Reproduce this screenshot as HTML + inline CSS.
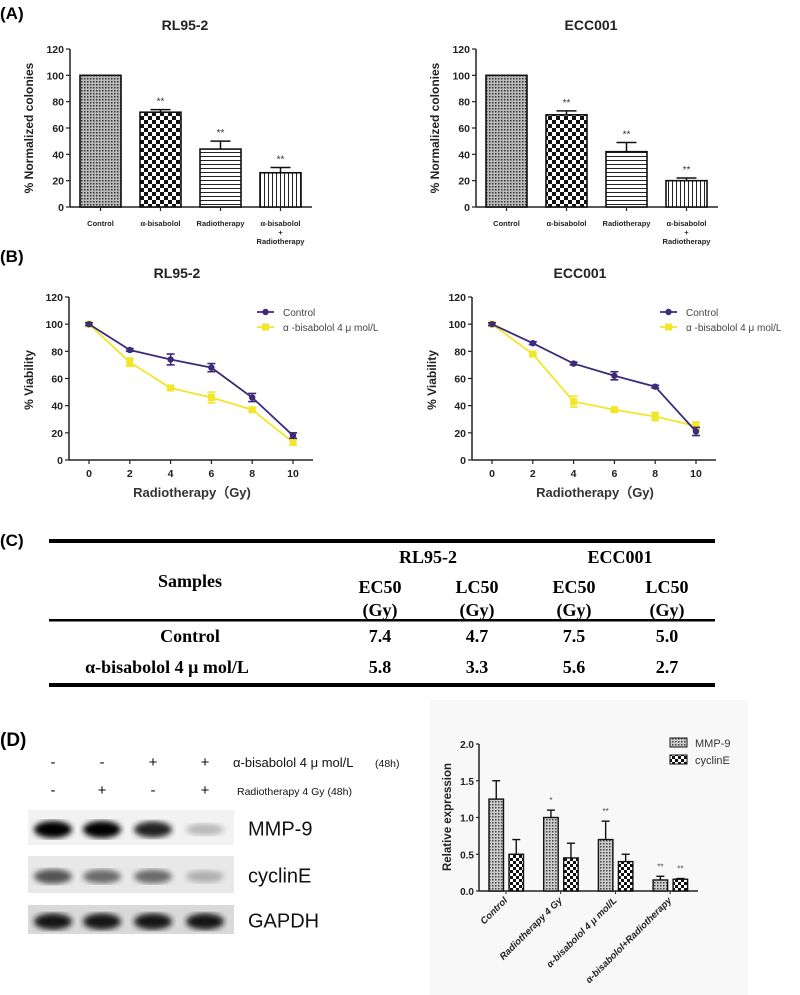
<!DOCTYPE html>
<html><head><meta charset="utf-8">
<style>
body{margin:0;background:#fff;}
svg{display:block;font-family:"Liberation Sans",Arial,sans-serif;}
.ser{font-family:"Liberation Serif","Times New Roman",serif;font-weight:bold;}
</style></head>
<body>
<svg id="fig" width="800" height="995" viewBox="0 0 800 995" xmlns="http://www.w3.org/2000/svg">
<defs>
<pattern id="pCtrl" width="3" height="3" patternUnits="userSpaceOnUse"><rect width="3" height="3" fill="#bbb"/><rect width="1.5" height="1.5" fill="#333"/></pattern>
<pattern id="pChk" width="8" height="8" patternUnits="userSpaceOnUse"><rect width="8" height="8" fill="#fff"/><rect width="4" height="4" fill="#111"/><rect x="4" y="4" width="4" height="4" fill="#111"/></pattern>
<pattern id="pH" width="4" height="4" patternUnits="userSpaceOnUse"><rect width="4" height="4" fill="#fff"/><rect width="4" height="1" fill="#222"/></pattern>
<pattern id="pV" width="4" height="4" patternUnits="userSpaceOnUse"><rect width="4" height="4" fill="#fff"/><rect width="1" height="4" fill="#222"/></pattern>
<pattern id="pMMP" width="3" height="3" patternUnits="userSpaceOnUse"><rect width="3" height="3" fill="#ccc"/><rect width="1.5" height="1.5" fill="#444"/></pattern>
<pattern id="pCyc" width="6" height="6" patternUnits="userSpaceOnUse"><rect width="6" height="6" fill="#fff"/><rect width="3" height="3" fill="#111"/><rect x="3" y="3" width="3" height="3" fill="#111"/></pattern>
<filter id="blur"><feGaussianBlur stdDeviation="3"/></filter>
</defs>
<g id="root"></g>
</svg>
<script>
// ---- Panel A data ----
const aCategories = ["Control", "α-bisabolol", "Radiotherapy", "α-bisabolol+Radiotherapy"];
const aRL95 = [100, 72, 44, 26];
const aRL95Err = [0, 2, 6, 4];
const aECC = [100, 70, 42, 20];
const aECCErr = [0, 3, 7, 2];
const aTicks = [0, 20, 40, 60, 80, 100, 120];
// ---- Panel B data ----
const bDoses = [0, 2, 4, 6, 8, 10];
const bRLControl = [100, 81, 74, 68, 46, 18];
const bRLControlErr = [1, 1, 4, 3, 3, 2];
const bRLDrug = [100, 72, 53, 46, 37, 13];
const bRLDrugErr = [1, 3, 1, 4, 1, 2];
const bECCControl = [100, 86, 71, 62, 54, 21];
const bECCControlErr = [1, 1, 1, 3, 1, 3];
const bECCDrug = [100, 78, 43, 37, 32, 25];
const bECCDrugErr = [1, 1, 4, 1, 3, 3];
const bXTicks = [0, 2, 4, 6, 8, 10];
// ---- Panel D data ----
const dCategories = ["Control", "Radiotherapy 4 Gy", "α-bisabolol 4 μ mol/L", "α-bisabolol+Radiotherapy"];
const dMMP9 = [1.25, 1.0, 0.7, 0.15];
const dMMP9Err = [0.25, 0.1, 0.25, 0.05];
const dCyclinE = [0.5, 0.45, 0.4, 0.16];
const dCyclinEErr = [0.2, 0.2, 0.1, 0.01];
const dSig = ["", "*", "**", "**"];
const dSigC = ["", "", "", "**"];
const dTicks = ["0.0", "0.5", "1.0", "1.5", "2.0"];
const blotMMP = [1, 1, 0.85, 0.2];
const blotCyc = [0.65, 0.55, 0.55, 0.25];
const blotGapdh = [0.9, 0.9, 0.9, 0.9];

const NS = "http://www.w3.org/2000/svg";
const root = document.getElementById("root");
function mk(tag, attrs, parent, text) {
  const e = document.createElementNS(NS, tag);
  for (const k in attrs) e.setAttribute(k, attrs[k]);
  if (text !== undefined) e.textContent = text;
  (parent || root).appendChild(e);
  return e;
}
function grp(name, parent) {
  const g = mk("g", {}, parent);
  
  
  return g;
}
function txt(parent, name, x, y, s, attrs) {
  const t = mk("text", Object.assign({x: x, y: y}, attrs || {}), parent, s);
  
  
  return t;
}

txt(root, "panel-a-label", 0, 19, "(A)", {"font-size": 17, "font-weight": "bold"});
txt(root, "panel-b-label", 0, 262, "(B)", {"font-size": 17, "font-weight": "bold"});
txt(root, "panel-c-label", 0, 546, "(C)", {"font-size": 17, "font-weight": "bold"});
txt(root, "panel-d-label", 0, 746, "(D)", {"font-size": 19, "font-weight": "bold"});

// ---------- Panel A ----------
function barChartA(off, title, vals, errs, name) {
  const g = grp(name);
  const x0 = 70 + off, yb = 207, yt = 49, xe = 312 + off;
  const y = v => yb - (v / 120) * (yb - yt);
  const fills = ["url(#pCtrl)", "url(#pChk)", "url(#pH)", "url(#pV)"];
  const bx = i => 80 + off + i * 60;
  txt(g, "chart-title", 185 + off, 30, title, {"font-size": 14, "font-weight": "bold", "text-anchor": "middle", fill: "#222"});
  mk("line", {x1: x0, y1: yt, x2: x0, y2: yb, stroke: "#222", "stroke-width": 1.5}, g);
  mk("line", {x1: x0, y1: yb, x2: xe, y2: yb, stroke: "#222", "stroke-width": 1.5}, g);
  aTicks.forEach(t => {
    mk("line", {x1: x0 - 4, y1: y(t), x2: x0, y2: y(t), stroke: "#222", "stroke-width": 1.2}, g);
    txt(g, "y-tick", x0 - 6, y(t) + 4, t, {"font-size": 10.5, "font-weight": "bold", "text-anchor": "end", fill: "#222"});
  });
  txt(g, "y-axis-title", 0, 0, "% Normalized colonies", {"font-size": 12, "font-weight": "bold", "text-anchor": "middle", fill: "#222", transform: `translate(${33 + off},128) rotate(-90)`});
  vals.forEach((v, i) => {
    const r = mk("rect", {x: bx(i), y: y(v), width: 41, height: yb - y(v), fill: fills[i], stroke: "#111", "stroke-width": 1.6}, g);
    
    
    const cx = bx(i) + 20.5;
    if (errs[i] > 0) {
      mk("line", {x1: cx, y1: y(v), x2: cx, y2: y(v + errs[i]), stroke: "#111", "stroke-width": 1.5}, g);
      mk("line", {x1: cx - 10, y1: y(v + errs[i]), x2: cx + 10, y2: y(v + errs[i]), stroke: "#111", "stroke-width": 1.5}, g);
    }
    if (i > 0) txt(g, "significance", cx, y(v + errs[i]) - 5, "**", {"font-size": 10, "text-anchor": "middle", fill: "#333"});
    mk("line", {x1: cx, y1: yb, x2: cx, y2: yb + 4, stroke: "#222", "stroke-width": 1.2}, g);
  });
  const lab = ["Control", "α-bisabolol", "Radiotherapy"];
  lab.forEach((l, i) => txt(g, "x-tick", bx(i) + 20.5, 226, l, {"font-size": 7.5, "font-weight": "bold", "text-anchor": "middle", fill: "#222"}));
  txt(g, "x-tick", bx(3) + 20.5, 226, "α-bisabolol", {"font-size": 7.5, "font-weight": "bold", "text-anchor": "middle", fill: "#222"});
  txt(g, "x-tick", bx(3) + 20.5, 235, "+", {"font-size": 7.5, "font-weight": "bold", "text-anchor": "middle", fill: "#222"});
  txt(g, "x-tick", bx(3) + 20.5, 244, "Radiotherapy", {"font-size": 7.5, "font-weight": "bold", "text-anchor": "middle", fill: "#222"});
}
barChartA(0, "RL95-2", aRL95, aRL95Err, "colony-chart-rl95");
barChartA(406, "ECC001", aECC, aECCErr, "colony-chart-ecc001");

// ---------- Panel B ----------
function lineChartB(off, title, c, ce, d, de, name) {
  const g = grp(name);
  const x0 = 69 + off, yb = 460, yt = 297, xe = 313 + off;
  const y = v => yb - (v / 120) * (yb - yt);
  const x = v => 89 + off + (v / 10) * 204;
  txt(g, "chart-title", 177 + off, 278, title, {"font-size": 14, "font-weight": "bold", "text-anchor": "middle", fill: "#222"});
  mk("line", {x1: x0, y1: yt, x2: x0, y2: yb, stroke: "#222", "stroke-width": 1.5}, g);
  mk("line", {x1: x0, y1: yb, x2: xe, y2: yb, stroke: "#222", "stroke-width": 1.5}, g);
  aTicks.forEach(t => {
    mk("line", {x1: x0 - 4, y1: y(t), x2: x0, y2: y(t), stroke: "#222", "stroke-width": 1.2}, g);
    txt(g, "y-tick", x0 - 6, y(t) + 4, t, {"font-size": 10.5, "font-weight": "bold", "text-anchor": "end", fill: "#222"});
  });
  bXTicks.forEach(t => {
    mk("line", {x1: x(t), y1: yb, x2: x(t), y2: yb + 4, stroke: "#222", "stroke-width": 1.2}, g);
    txt(g, "x-tick", x(t), 477, t, {"font-size": 10.5, "font-weight": "bold", "text-anchor": "middle", fill: "#222"});
  });
  txt(g, "x-axis-title", 192 + off, 497, "Radiotherapy（Gy)", {"font-size": 13, "font-weight": "bold", "text-anchor": "middle", fill: "#333"});
  txt(g, "y-axis-title", 0, 0, "% Viability", {"font-size": 12, "font-weight": "bold", "text-anchor": "middle", fill: "#222", transform: `translate(${33 + off},380) rotate(-90)`});
  function series(vals, errs, col, mark, sname) {
    const sg = grp(sname, g);
    mk("polyline", {points: vals.map((v, i) => x(bDoses[i]) + "," + y(v)).join(" "), fill: "none", stroke: col, "stroke-width": 1.8}, sg);
    vals.forEach((v, i) => {
      const cx = x(bDoses[i]);
      mk("line", {x1: cx, y1: y(v - errs[i]), x2: cx, y2: y(v + errs[i]), stroke: col, "stroke-width": 1.6}, sg);
      mk("line", {x1: cx - 4, y1: y(v - errs[i]), x2: cx + 4, y2: y(v - errs[i]), stroke: col, "stroke-width": 1.6}, sg);
      mk("line", {x1: cx - 4, y1: y(v + errs[i]), x2: cx + 4, y2: y(v + errs[i]), stroke: col, "stroke-width": 1.6}, sg);
      const p = mark === "c" ? mk("circle", {cx: cx, cy: y(v), r: 3.2, fill: col}, sg) : mk("rect", {x: cx - 3.5, y: y(v) - 3.5, width: 7, height: 7, fill: col}, sg);
      
      
    });
  }
  series(d, de, "#f2e62a", "s", "series-bisabolol");
  series(c, ce, "#3d2a78", "c", "series-control");
  const lg = grp("legend", g);
  mk("line", {x1: 257 + off, y1: 312, x2: 274 + off, y2: 312, stroke: "#3d2a78", "stroke-width": 1.8}, lg);
  mk("circle", {cx: 265.5 + off, cy: 312, r: 3.2, fill: "#3d2a78"}, lg);
  txt(lg, "legend-control", 283 + off, 316, "Control", {"font-size": 10, fill: "#444"});
  mk("line", {x1: 257 + off, y1: 327, x2: 274 + off, y2: 327, stroke: "#f2e62a", "stroke-width": 1.8}, lg);
  mk("rect", {x: 262 + off, y: 323.5, width: 7, height: 7, fill: "#f2e62a"}, lg);
  txt(lg, "legend-bisabolol", 283 + off, 331, "α -bisabolol 4 μ mol/L", {"font-size": 10, fill: "#444"});
}
lineChartB(0, "RL95-2", bRLControl, bRLControlErr, bRLDrug, bRLDrugErr, "viability-chart-rl95");
lineChartB(403, "ECC001", bECCControl, bECCControlErr, bECCDrug, bECCDrugErr, "viability-chart-ecc001");

// ---------- Panel C table ----------
(function () {
  const g = grp("ec50-table");
  mk("rect", {x: 49, y: 539, width: 666, height: 4, fill: "#000"}, g);
  mk("rect", {x: 49, y: 619, width: 666, height: 2.5, fill: "#000"}, g);
  mk("rect", {x: 49, y: 683, width: 666, height: 4, fill: "#000"}, g);
  const a = {"font-size": 18, "text-anchor": "middle", class: "ser"};
  txt(g, "header-rl95", 428, 563, "RL95-2", a);
  txt(g, "header-ecc001", 620, 563, "ECC001", a);
  txt(g, "header-samples", 190, 587, "Samples", a);
  const cols = [380, 477, 574, 667], hd = ["EC50", "LC50", "EC50", "LC50"];
  cols.forEach((cx, i) => { txt(g, "col-header", cx, 593, hd[i], a); txt(g, "col-unit", cx, 616, "(Gy)", a); });
  const rows = [["Control", "7.4", "4.7", "7.5", "5.0"], ["α-bisabolol 4 μ mol/L", "5.8", "3.3", "5.6", "2.7"]];
  const rx = [190, 167];
  rows.forEach((r, ri) => {
    const yy = 642 + ri * 31;
    txt(g, "row-label", rx[ri], yy, r[0], a);
    cols.forEach((cx, i) => txt(g, "cell-value", cx, yy, r[i + 1], a));
  });
})();

// ---------- Panel D western blot ----------
(function () {
  const g = grp("western-blot");
  const lx = [53, 102, 153, 205];
  const r1 = ["-", "-", "+", "+"], r2 = ["-", "+", "-", "+"];
  lx.forEach((x, i) => {
    txt(g, "treatment-sign", x, 767, r1[i], {"font-size": 15, "text-anchor": "middle", fill: "#111"});
    txt(g, "treatment-sign", x, 795, r2[i], {"font-size": 15, "text-anchor": "middle", fill: "#111"});
  });
  txt(g, "treatment-label", 233, 767, "α-bisabolol 4 μ mol/L", {"font-size": 13, fill: "#111"});
  txt(g, "treatment-label-time", 375, 767, "(48h)", {"font-size": 10.5, fill: "#111"});
  txt(g, "treatment-label", 237, 795, "Radiotherapy 4 Gy (48h)", {"font-size": 10.5, fill: "#111"});
  const strips = [[810, 35, blotMMP, "MMP-9", "#f2f2f2"], [856, 37, blotCyc, "cyclinE", "#e8e8e8"], [905, 29, blotGapdh, "GAPDH", "#d9d9d9"]];
  strips.forEach((s, si) => {
    const sg = grp("blot-" + s[3].toLowerCase(), g);
    mk("rect", {x: 28, y: s[0], width: 206, height: s[1], fill: s[4]}, sg);
    s[2].forEach((v, i) => {
      const gray = Math.round(230 - v * 228);
      mk("ellipse", {cx: lx[i], cy: s[0] + s[1] / 2 + 2, rx: 19, ry: 5 + v * 3.5, fill: `rgb(${gray},${gray},${gray})`, filter: "url(#blur)"}, sg);
    });
    txt(sg, "blot-label", 248, s[0] + s[1] / 2 + 8, s[3], {"font-size": 20, fill: "#111"});
  });
})();

// ---------- Panel D bar chart ----------
(function () {
  const g = grp("expression-chart");
  mk("rect", {x: 430, y: 700, width: 318, height: 295, fill: "#f8f8f8"}, g);
  const x0 = 479, yb = 891, yt = 744, xe = 698;
  const y = v => yb - (v / 2) * (yb - yt);
  mk("line", {x1: x0, y1: yt, x2: x0, y2: yb, stroke: "#222", "stroke-width": 1.5}, g);
  mk("line", {x1: x0, y1: yb, x2: xe, y2: yb, stroke: "#222", "stroke-width": 1.5}, g);
  dTicks.forEach(t => {
    const v = parseFloat(t);
    mk("line", {x1: x0 - 3, y1: y(v), x2: x0, y2: y(v), stroke: "#222", "stroke-width": 1.2}, g);
    txt(g, "y-tick", x0 - 5, y(v) + 4, t, {"font-size": 10, "font-weight": "bold", "text-anchor": "end", fill: "#222"});
  });
  txt(g, "y-axis-title", 0, 0, "Relative expression", {"font-size": 11.5, "font-weight": "bold", "text-anchor": "middle", fill: "#222", transform: "translate(451,817) rotate(-90)"});
  const gx = i => 489 + i * 54.7;
  function bar(v, e, xx, fill, name, sig) {
    const r = mk("rect", {x: xx, y: y(v), width: 14.5, height: yb - y(v), fill: fill, stroke: "#111", "stroke-width": 1.4}, g);
    
    
    const cx = xx + 7.25;
    mk("line", {x1: cx, y1: y(v), x2: cx, y2: y(v + e), stroke: "#111", "stroke-width": 1.4}, g);
    mk("line", {x1: cx - 4, y1: y(v + e), x2: cx + 4, y2: y(v + e), stroke: "#111", "stroke-width": 1.4}, g);
    if (sig) txt(g, "significance", cx, y(v + e) - 7, sig, {"font-size": 8, "text-anchor": "middle", fill: "#444"});
  }
  dCategories.forEach((c, i) => {
    bar(dMMP9[i], dMMP9Err[i], gx(i), "url(#pMMP)", "bar-mmp9-" + i, dSig[i]);
    bar(dCyclinE[i], dCyclinEErr[i], gx(i) + 20, "url(#pCyc)", "bar-cycline-" + i, dSigC[i]);
    const tx = gx(i) + 17;
    mk("line", {x1: tx, y1: yb, x2: tx, y2: yb + 3, stroke: "#222"}, g);
    txt(g, "x-tick", 0, 0, c, {"font-size": 9.5, "font-weight": "bold", "font-style": "italic", "text-anchor": "end", fill: "#222", transform: `translate(${tx + 2},${yb + 10}) rotate(-45)`});
  });
  const lg = grp("legend", g);
  mk("rect", {x: 670, y: 738, width: 17, height: 9, fill: "url(#pMMP)", stroke: "#111"}, lg);
  txt(lg, "legend-mmp9", 695, 747, "MMP-9", {"font-size": 11, fill: "#333"});
  mk("rect", {x: 670, y: 755, width: 17, height: 9, fill: "url(#pCyc)", stroke: "#111"}, lg);
  txt(lg, "legend-cycline", 695, 764, "cyclinE", {"font-size": 11, fill: "#333"});
})();
</script>
</body></html>
